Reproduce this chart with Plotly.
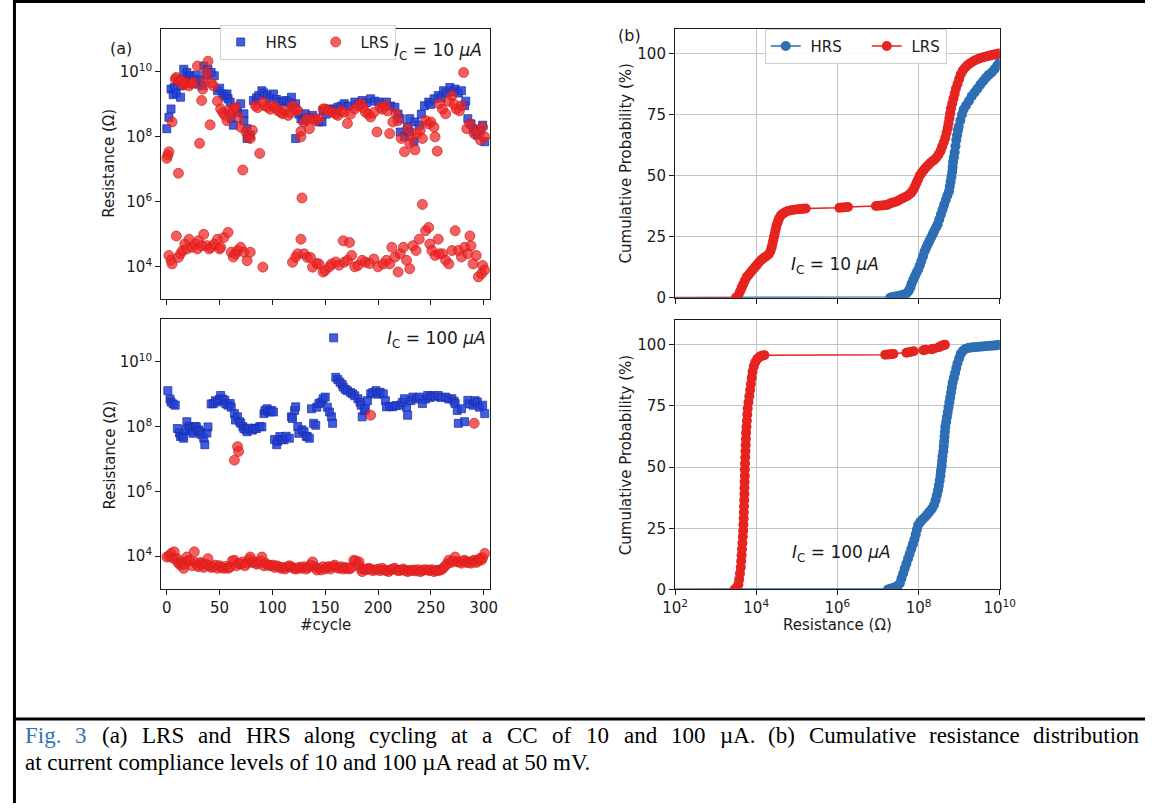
import numpy as np
import plotly.graph_objects as go

W, H = 1161, 812

# ---------------- data ----------------
# (a) top: I_C = 10 uA  -- resistance given as log10(R / Ohm)
top_hrs_cycle = [0, 2, 4, 4, 6, 7, 9, 10, 13, 13, 15, 16, 17, 19, 21, 22, 24, 25, 28, 30,
                 32, 34, 35, 37, 39, 42, 45, 48, 50, 53, 55, 57, 58, 60, 61, 63, 65, 67, 70, 73,
                 73, 76, 76, 79, 82, 85, 87, 90, 92, 95, 98, 101, 104, 107, 110, 113, 116, 118, 122, 122,
                 125, 127, 129, 131, 134, 138, 141, 144, 147, 148, 151, 154, 158, 162, 165, 168, 172, 178, 181, 185,
                 189, 193, 197, 201, 204, 208, 212, 216, 219, 221, 221, 225, 228, 230, 230, 234, 235, 239, 241, 244,
                 248, 250, 253, 257, 260, 262, 265, 268, 271, 273, 276, 279, 282, 283, 285, 288, 290, 292, 294, 297,
                 299, 301]
top_hrs_logr = [8.25, 8.6, 8.86, 9.47, 9.3, 9.52, 9.35, 9.73, 9.22, 9.57, 9.8, 10.08, 9.67, 9.98, 9.85, 9.88, 9.7, 9.78, 9.9, 9.62,
                9.75, 9.57, 10.18, 9.9, 10.08, 9.98, 9.88, 9.42, 9.5, 9.32, 9.25, 9.32, 9.17, 9.07, 8.56, 8.36, 8.9, 8.75, 9.02, 8.71,
                8.5, 8.25, 7.95, 8.05, 9.12, 9.2, 9.27, 9.42, 9.35, 9.27, 9.2, 9.32, 9.15, 9.07, 9.1, 9.12, 9.05, 9.22, 9.02, 7.95,
                8.7, 8.56, 8.5, 8.71, 8.6, 8.66, 8.55, 8.46, 8.46, 8.81, 8.7, 8.86, 8.85, 8.91, 8.95, 9.02, 8.95, 9.07, 9.0, 9.12,
                9.05, 9.17, 9.1, 9.07, 9.0, 9.07, 8.95, 8.91, 8.7, 8.15, 8.56, 8.0, 8.3, 8.56, 8.15, 7.85, 8.46, 8.36, 8.7, 8.96,
                9.07, 9.0, 9.17, 9.27, 9.2, 9.42, 9.35, 9.52, 9.4, 9.47, 9.35, 9.42, 8.96, 9.1, 8.56, 8.4, 8.25, 8.15, 8.05, 8.2,
                8.36, 7.85]

top_lrs_cycle = [0, 1, 2, 5, 8, 9, 11, 12, 14, 16, 18, 21, 23, 25, 29, 31, 33, 34, 36, 38,
                 39, 41, 42, 44, 48, 51, 53, 55, 57, 59, 61, 63, 65, 68, 70, 72, 75, 77, 79, 81,
                 84, 86, 88, 91, 93, 96, 98, 101, 103, 105, 108, 110, 112, 115, 117, 119, 122, 124, 127, 127,
                 128, 130, 133, 135, 138, 141, 144, 148, 150, 153, 157, 160, 162, 165, 168, 171, 174, 178, 181, 184,
                 186, 188, 191, 193, 196, 199, 202, 204, 207, 209, 211, 214, 217, 219, 222, 225, 228, 230, 232, 235,
                 237, 240, 242, 245, 248, 250, 253, 254, 256, 258, 261, 264, 267, 270, 272, 274, 277, 279, 281, 284,
                 287, 291, 294, 297, 299, 301,
                 2, 4, 5, 9, 11, 13, 15, 17, 19, 21, 24, 27, 29, 30, 33, 35, 38, 40, 42, 45,
                 48, 50, 51, 54, 58, 61, 63, 65, 67, 70, 73, 76, 79, 91, 119, 122, 124, 127, 130, 133,
                 136, 138, 142, 144, 148, 150, 154, 156, 160, 163, 167, 168, 171, 173, 175, 178, 181, 185, 188, 192,
                 196, 200, 205, 208, 211, 213, 216, 219, 221, 224, 227, 230, 233, 236, 239, 242, 245, 248, 249, 251,
                 254, 257, 258, 261, 264, 267, 270, 273, 276, 279, 282, 285, 287, 288, 290, 293, 295, 298, 299, 301]
top_lrs_logr = [7.34, 7.44, 7.54, 8.46, 9.78, 9.83, 6.88, 9.7, 9.73, 9.6, 9.67, 9.57, 9.65, 9.67, 10.18, 7.8, 9.12, 9.47, 9.7, 9.98,
                10.33, 8.37, 9.67, 9.57, 9.1, 8.86, 8.75, 8.66, 8.5, 8.8, 8.71, 8.85, 8.91, 8.6, 8.3, 6.98, 8.15, 8.0, 7.95, 8.2,
                8.96, 8.9, 7.49, 9.07, 8.95, 8.91, 8.85, 8.96, 8.9, 8.81, 8.75, 8.71, 8.8, 8.66, 8.75, 8.96, 8.85, 8.81, 8.17, 8.0,
                6.12, 8.45, 8.56, 8.25, 8.56, 8.5, 8.56, 8.86, 8.86, 8.8, 8.76, 8.7, 8.66, 8.8, 8.76, 8.41, 8.7, 8.86, 8.95, 9.02,
                8.9, 8.76, 8.7, 8.61, 8.75, 8.15, 8.91, 8.85, 8.96, 8.8, 8.1, 8.46, 8.71, 8.5, 7.95, 7.54, 8.25, 7.8, 8.0, 7.6,
                8.1, 8.2, 7.95, 8.5, 8.4, 8.46, 8.3, 8.0, 7.56, 9.02, 8.85, 8.71, 9.1, 9.27, 9.0, 8.86, 8.8, 8.96, 9.98, 8.25,
                8.4, 8.1, 8.2, 7.9, 8.3, 8.0,
                4.35, 4.2, 4.09, 4.95, 4.29, 4.4, 4.5, 4.7, 4.55, 4.85, 4.6, 4.7, 4.55, 4.8, 4.65, 5.0, 4.65, 4.55, 4.6, 4.7,
                4.85, 4.55, 4.6, 4.9, 5.06, 4.45, 4.3, 4.4, 4.5, 4.6, 4.45, 4.19, 4.45, 3.99, 4.14, 4.3, 4.4, 4.85, 4.4, 4.29,
                4.29, 3.99, 4.1, 4.09, 3.84, 3.89, 4.0, 4.09, 4.15, 4.05, 4.8, 4.14, 4.2, 4.75, 4.35, 4.0, 4.04, 4.2, 4.14, 4.1,
                4.24, 4.0, 4.09, 4.2, 4.09, 4.6, 4.3, 3.84, 4.4, 4.6, 4.2, 3.94, 4.65, 4.5, 4.85, 5.92, 5.11, 5.21, 4.7, 4.5,
                4.35, 4.85, 4.4, 4.4, 4.2, 4.09, 4.5, 5.11, 4.5, 4.3, 4.6, 4.4, 4.95, 4.65, 4.09, 4.35, 3.69, 3.79, 4.04, 3.9]

# (a) bottom: I_C = 100 uA
bot_hrs_cycle = [1, 3, 4, 6, 8, 10, 12, 13, 15, 16, 18, 19, 21, 22, 24, 25, 27, 28, 30, 31,
                 33, 35, 36, 38, 39, 42, 44, 46, 48, 50, 51, 53, 55, 56, 58, 60, 61, 64, 65, 67,
                 69, 70, 72, 73, 75, 76, 78, 81, 83, 85, 88, 90, 92, 93, 95, 97, 99, 101, 102, 104,
                 105, 107, 109, 111, 113, 116, 118, 119, 121, 122, 124, 125, 128, 130, 132, 133, 135, 137, 139, 141,
                 142, 144, 146, 148, 150, 152, 154, 156, 157, 158, 160, 162, 164, 166, 167, 169, 171, 174, 176, 178,
                 181, 183, 184, 185, 187, 188, 190, 193, 195, 198, 200, 202, 205, 207, 208, 211, 214, 217, 221, 223,
                 225, 227, 228, 231, 233, 236, 239, 242, 245, 247, 249, 251, 254, 257, 260, 264, 267, 270, 272, 273,
                 275, 276, 279, 282, 285, 287, 290, 292, 294, 296, 299, 301]
bot_hrs_logr = [9.11, 8.85, 8.76, 8.7, 8.66, 7.94, 7.8, 7.69, 7.7, 7.64, 7.9, 8.15, 8.0, 7.94, 7.85, 7.79, 8.0, 7.99, 7.9, 7.84,
                7.75, 7.64, 7.44, 7.8, 7.99, 8.7, 8.71, 8.8, 8.76, 8.85, 8.96, 8.85, 8.81, 8.7, 8.66, 8.71, 8.6, 8.4, 8.2, 8.3,
                8.15, 8.1, 8.0, 7.94, 7.9, 7.84, 7.95, 7.89, 7.95, 7.94, 8.0, 7.99, 8.4, 8.5, 8.55, 8.45, 8.5, 8.45, 7.6, 7.44,
                7.55, 7.69, 7.6, 7.59, 7.7, 7.64, 8.3, 8.25, 8.5, 8.61, 8.0, 7.79, 7.9, 7.84, 7.7, 7.69, 7.64, 8.55, 8.1, 8.04,
                8.6, 8.71, 8.75, 8.86, 8.91, 8.6, 8.45, 8.3, 8.1, 10.74, 9.52, 9.45, 9.37, 9.3, 9.22, 9.15, 9.11, 9.05, 9.01, 8.95,
                8.86, 8.75, 8.66, 8.3, 8.5, 8.55, 8.8, 9.01, 9.05, 9.11, 9.0, 9.06, 9.01, 8.8, 8.61, 8.62, 8.61, 8.65, 8.66, 8.75,
                8.86, 8.6, 8.35, 8.8, 8.91, 8.85, 8.91, 8.71, 8.85, 8.96, 8.9, 8.96, 8.92, 8.96, 8.9, 8.91, 8.85, 8.86, 8.78, 8.71,
                8.5, 8.1, 8.55, 8.15, 8.81, 8.7, 8.66, 8.8, 8.76, 8.6, 8.66, 8.4]

bot_lrs_cycle = [0, 2, 4, 5, 7, 8, 10, 11, 13, 14, 16, 17, 19, 20, 22, 24, 26, 27, 29, 30,
                 32, 34, 35, 37, 39, 40, 42, 44, 46, 48, 50, 52, 54, 56, 58, 60, 62, 64, 66, 68,
                 70, 72, 74, 76, 78, 79, 81, 83, 85, 87, 89, 90, 92, 94, 96, 98, 100, 102, 104, 106,
                 108, 110, 112, 114, 116, 118, 120, 122, 124, 126, 128, 130, 132, 134, 136, 138, 140, 142, 144, 146,
                 148, 150, 152, 153, 155, 157, 159, 161, 163, 165, 167, 169, 171, 173, 175, 177, 179, 181, 182, 184,
                 185, 187, 189, 191, 193, 195, 198, 200, 202, 204, 206, 208, 210, 212, 214, 216, 218, 220, 222, 224,
                 226, 228, 230, 232, 234, 236, 238, 240, 242, 244, 247, 249, 251, 253, 255, 257, 259, 261, 263, 265,
                 267, 269, 271, 273, 275, 277, 279, 281, 282, 284, 286, 288, 290, 291, 293, 295, 296, 298, 299, 301,
                 64, 67, 68, 193, 291]
bot_lrs_logr = [3.97, 4.0, 4.08, 3.95, 4.13, 3.9, 3.92, 3.78, 3.72, 3.8, 3.62, 3.75, 3.97, 3.85, 3.87, 3.7, 4.13, 3.8, 3.72, 3.67,
                3.8, 3.77, 3.65, 3.75, 3.92, 3.7, 3.65, 3.67, 3.72, 3.62, 3.7, 3.65, 3.62, 3.68, 3.62, 3.66, 3.85, 3.87, 3.7, 3.77,
                3.75, 3.82, 3.7, 3.78, 3.9, 3.97, 3.8, 3.82, 3.75, 3.78, 3.85, 3.97, 3.7, 3.77, 3.72, 3.7, 3.72, 3.65, 3.7, 3.67,
                3.62, 3.65, 3.6, 3.66, 3.7, 3.67, 3.62, 3.6, 3.62, 3.66, 3.62, 3.67, 3.6, 3.65, 3.72, 3.82, 3.67, 3.57, 3.62, 3.57,
                3.67, 3.6, 3.65, 3.67, 3.6, 3.68, 3.72, 3.65, 3.62, 3.67, 3.6, 3.65, 3.62, 3.6, 3.65, 3.87, 3.85, 3.75, 3.82, 3.6,
                3.52, 3.6, 3.58, 3.62, 3.6, 3.55, 3.57, 3.6, 3.55, 3.62, 3.57, 3.55, 3.52, 3.58, 3.6, 3.62, 3.56, 3.55, 3.57, 3.6,
                3.55, 3.52, 3.56, 3.55, 3.57, 3.54, 3.58, 3.52, 3.55, 3.58, 3.57, 3.55, 3.58, 3.52, 3.56, 3.55, 3.57, 3.6, 3.67, 3.75,
                3.87, 3.8, 3.85, 3.97, 3.82, 3.82, 3.78, 3.85, 3.87, 3.8, 3.82, 3.78, 3.85, 3.87, 3.8, 3.85, 3.92, 3.88, 3.95, 4.08,
                6.96, 7.38, 7.23, 8.35, 8.1]

# (b) cumulative distributions: log10(R / Ohm) and cumulative probability (%)
cdf10_hrs_logr = [1.0, 7.30, 7.36, 7.43, 7.50, 7.57, 7.64, 7.71, 7.76, 7.80, 7.83, 7.87, 7.91, 7.95, 7.99, 8.03, 8.07, 8.11, 8.15, 8.19,
                  8.23, 8.27, 8.31, 8.35, 8.39, 8.43, 8.47, 8.51, 8.55, 8.59, 8.63, 8.67, 8.71, 8.75, 8.77, 8.79, 8.81, 8.83, 8.84, 8.85,
                  8.87, 8.89, 8.91, 8.93, 8.95, 8.97, 8.99, 9.03, 9.07, 9.11, 9.17, 9.24, 9.31, 9.38, 9.45, 9.52, 9.59, 9.66, 9.73, 9.80,
                  9.87, 9.94, 10.0]
cdf10_hrs_p = [0, 0, 0.3, 0.5, 0.7, 1.0, 1.3, 1.8, 2.8, 4.2, 5.8, 7.3, 8.8, 10.2, 11.5, 13.2, 15.0, 17.0, 19.0, 20.5,
               22, 23.3, 24.6, 26, 27.4, 28.7, 30, 32, 34, 36, 38, 40, 41.8, 43.5, 45.5, 47.5, 49.5, 51.5, 53.5, 55.5,
               57.5, 59.5, 62, 64.5, 66.5, 68.5, 70, 72.5, 75, 77, 78.7, 80.5, 82.5, 84, 85.5, 87.2, 88.6, 90, 91.2, 92.2,
               93.5, 95, 96.5]
cdf10_lrs_logr = [1.0, 3.50, 3.56, 3.60, 3.64, 3.68, 3.72, 3.77, 3.82, 3.87, 3.92, 3.97, 4.02, 4.07, 4.13, 4.19, 4.25, 4.31, 4.35, 4.38,
                  4.40, 4.42, 4.44, 4.46, 4.48, 4.50, 4.53, 4.56, 4.60, 4.65, 4.71, 4.78, 4.86, 4.94, 5.03, 5.10, 5.16, 5.22,
                  6.05, 6.12, 6.19, 6.26, 6.95, 7.02, 7.09, 7.16, 7.23,
                  7.30, 7.37, 7.44, 7.51, 7.58, 7.65, 7.71, 7.77, 7.82, 7.87, 7.91, 7.95, 7.99, 8.03, 8.08, 8.13, 8.18, 8.24, 8.30, 8.37,
                  8.43, 8.49, 8.54, 8.58, 8.62, 8.66, 8.69, 8.72, 8.74, 8.76, 8.78, 8.80, 8.83, 8.86, 8.89, 8.92, 8.96, 9.00, 9.04, 9.09,
                  9.15, 9.21, 9.27, 9.34, 9.41, 9.48, 9.55, 9.62, 9.69, 9.76, 9.83, 9.90, 9.98]
cdf10_lrs_p = [0, 0, 1, 2.5, 4, 5.5, 7, 8.5, 9.5, 10.5, 11.5, 12.5, 13.5, 14.5, 15.5, 16.3, 17, 17.8, 19, 20.5,
               22, 23.5, 25, 26.5, 28, 29.5, 31, 32.3, 33.5, 34.3, 35, 35.5, 35.8, 36, 36.2, 36.3, 36.4, 36.5,
               36.8, 36.9, 37.0, 37.1, 37.5, 37.6, 37.7, 37.8, 38.0,
               38.6, 39.0, 39.3, 39.8, 40.5, 41.0, 41.5, 42.2, 43, 44.2, 45.5, 47, 48.5, 50, 51.2, 52.3, 53.3, 54.3, 55.3, 56.2,
               57.2, 58.5, 60, 61.8, 63.5, 65.5, 67.5, 69.5, 71.5, 73.5, 75.5, 77.5, 79.5, 81.5, 83.5, 85.5, 87.5, 89.5, 91.5, 93,
               94.2, 95.2, 96.0, 96.7, 97.3, 97.8, 98.2, 98.5, 98.8, 99.1, 99.4, 99.7, 100]

cdf100_hrs_logr = [1.0, 7.25, 7.31, 7.37, 7.43, 7.49, 7.54, 7.58, 7.62, 7.66, 7.70, 7.74, 7.78, 7.82, 7.86, 7.90, 7.93, 7.96, 7.99, 8.04,
                   8.09, 8.15, 8.21, 8.27, 8.33, 8.38, 8.42, 8.45, 8.48, 8.50, 8.52, 8.54, 8.55, 8.57, 8.58, 8.59, 8.61, 8.62, 8.63, 8.64,
                   8.65, 8.66, 8.68, 8.70, 8.72, 8.74, 8.76, 8.78, 8.80, 8.82, 8.84, 8.87, 8.90, 8.93, 8.96, 9.00, 9.04, 9.09, 9.15, 9.22,
                   9.29, 9.36, 9.43, 9.50, 9.57, 9.64, 9.71, 9.78, 9.85, 9.92, 9.99]
cdf100_hrs_p = [0, 0, 0.3, 0.6, 1.0, 1.5, 2.5, 4.5, 6.5, 8.5, 10.5, 12.5, 14.5, 16.5, 18.5, 20.5, 22.5, 24.5, 26.3, 27.5,
                28.5, 29.4, 30.5, 31.8, 33, 34.5, 36.5, 38.5, 40.5, 42.5, 44.5, 46.5, 48.5, 50.5, 52.5, 54.5, 56.5, 58.5, 60.5, 62.5,
                64.5, 66.5, 68.5, 70.5, 72.5, 74.5, 76.5, 78.5, 80.5, 82.5, 84.5, 86.5, 88.5, 90.5, 92.5, 94.5, 96.3, 97.5, 98.3, 98.7,
                98.9, 99.0, 99.1, 99.2, 99.3, 99.4, 99.5, 99.6, 99.7, 99.8, 100]
cdf100_lrs_logr = [1.0, 3.47, 3.52, 3.56, 3.58, 3.60, 3.62, 3.63, 3.64, 3.65, 3.66, 3.67, 3.68, 3.685, 3.69, 3.695, 3.70, 3.705, 3.71, 3.71,
                   3.715, 3.72, 3.72, 3.725, 3.73, 3.735, 3.74, 3.745, 3.75, 3.76, 3.77, 3.78, 3.79, 3.81, 3.83, 3.85, 3.87, 3.89, 3.91, 3.94,
                   3.98, 4.03, 4.09, 4.15, 4.20,
                   7.18, 7.25, 7.32, 7.38, 7.70, 7.76, 7.82, 7.88, 8.12, 8.17, 8.32, 8.37, 8.50, 8.55, 8.60, 8.65]
cdf100_lrs_p = [0, 0, 0.7, 2, 4, 6.5, 9, 11.5, 14, 16.5, 19, 21.5, 24, 26.5, 29, 31.5, 34, 36.5, 39, 41.5,
                44, 46.5, 49, 51.5, 54, 56.5, 59, 61.5, 64, 66.5, 69, 71.5, 74, 76.5, 79, 81.5, 84, 86.5, 89, 91.2,
                93, 94.3, 95.2, 95.6, 95.8,
                96.0, 96.1, 96.2, 96.3, 96.8, 97.0, 97.2, 97.4, 97.8, 98.0, 98.2, 98.4, 99.0, 99.4, 99.8, 100]

cycle_ticks = [0, 50, 100, 150, 200, 250, 300]
res_tick_exp = [2, 4, 6, 8, 10]
prob_ticks = [0, 25, 50, 75, 100]

caption_line1 = ("Fig. 3 (a) LRS and HRS along cycling at a CC of 10 and 100 µA. "
                 "(b) Cumulative resistance distribution")
caption_line2 = "at current compliance levels of 10 and 100 µA read at 50 mV."

# ---------------- styling ----------------
FONT = "DejaVu Sans"
INK = "#1a1a1a"
BLUE_SQ = "rgba(35,65,215,0.85)"
BLUE_SQ_EDGE = "rgba(25,45,165,0.9)"
RED_C = "rgba(240,35,35,0.72)"
RED_C_EDGE = "rgba(205,30,30,0.85)"
BLUE_L = "#2d6eb5"
RED_L = "#e5231f"
TICK_SIZE = 15
LABEL_SIZE = 15
NB = "\u00a0"


def X(px):
    return px / W


def Y(py):
    return 1 - py / H


def pw(v):
    return list(np.power(10.0, v))


fig = go.Figure()

sq = dict(symbol="square", size=8, color=BLUE_SQ, line=dict(width=0.8, color=BLUE_SQ_EDGE))
ci = dict(symbol="circle", size=10, color=RED_C, line=dict(width=0.8, color=RED_C_EDGE))

fig.add_trace(go.Scatter(x=top_hrs_cycle, y=pw(top_hrs_logr), mode="markers", name=NB + "HRS",
                         marker=sq, xaxis="x", yaxis="y", legend="legend", legendwidth=50))
fig.add_trace(go.Scatter(x=top_lrs_cycle, y=pw(top_lrs_logr), mode="markers", name=NB + "LRS",
                         marker=ci, xaxis="x", yaxis="y", legend="legend"))
fig.add_trace(go.Scatter(x=bot_hrs_cycle, y=pw(bot_hrs_logr), mode="markers", name="HRS",
                         marker=sq, xaxis="x2", yaxis="y2", showlegend=False))
fig.add_trace(go.Scatter(x=bot_lrs_cycle, y=pw(bot_lrs_logr), mode="markers", name="LRS",
                         marker=ci, xaxis="x2", yaxis="y2", showlegend=False))

for xs, ps, col, name, xa, ya, show, lw in [
    (cdf10_hrs_logr, cdf10_hrs_p, BLUE_L, NB + "HRS", "x3", "y3", True, 56),
    (cdf10_lrs_logr, cdf10_lrs_p, RED_L, NB + "LRS", "x3", "y3", True, None),
    (cdf100_hrs_logr, cdf100_hrs_p, BLUE_L, "HRS", "x4", "y4", False, None),
    (cdf100_lrs_logr, cdf100_lrs_p, RED_L, "LRS", "x4", "y4", False, None),
]:
    fig.add_trace(go.Scatter(x=pw(xs), y=ps, mode="lines+markers", name=name,
                             line=dict(color=col, width=1.5),
                             marker=dict(symbol="circle", size=10, color=col),
                             xaxis=xa, yaxis=ya, showlegend=show, legend="legend2",
                             legendwidth=lw))

axis_common = dict(showline=True, linecolor=INK, linewidth=1.2, mirror=True,
                   ticks="outside", ticklen=5, tickwidth=1.2, tickcolor=INK,
                   tickfont=dict(family=FONT, size=TICK_SIZE, color=INK), zeroline=False)

res_text = ["10<sup>%d</sup>" % e for e in res_tick_exp]
res_vals = [10.0 ** e for e in res_tick_exp]

xl_dom = [X(152), X(489)]
xr_dom = [X(679), X(1012)]
GRID = "#c4c4c4"

fig.update_layout(
    width=W, height=H, autosize=False,
    margin=dict(l=0, r=0, t=0, b=0),
    paper_bgcolor="white", plot_bgcolor="white",
    font=dict(family=FONT, color=INK),
    xaxis=dict(domain=xl_dom, anchor="y", range=[-5.3, 305.8], tickvals=cycle_ticks,
               showticklabels=False, showgrid=False, **axis_common),
    yaxis=dict(domain=[Y(302), Y(29)], anchor="x", type="log", range=[3.02, 11.33],
               tickvals=res_vals[1:], ticktext=res_text[1:], showgrid=False, **axis_common),
    xaxis2=dict(domain=xl_dom, anchor="y2", range=[-5.3, 305.8], tickvals=cycle_ticks,
                showgrid=False, **axis_common),
    yaxis2=dict(domain=[Y(596), Y(323)], anchor="x2", type="log", range=[2.97, 11.31],
                tickvals=res_vals[1:], ticktext=res_text[1:], showgrid=False, **axis_common),
    xaxis3=dict(domain=xr_dom, anchor="y3", type="log", range=[2, 10], tickvals=res_vals,
                showticklabels=False, showgrid=True, gridcolor=GRID, gridwidth=1, **axis_common),
    yaxis3=dict(domain=[Y(301), Y(29.3)], anchor="x3", range=[0, 110], tickvals=prob_ticks,
                showgrid=True, gridcolor=GRID, gridwidth=1, **axis_common),
    xaxis4=dict(domain=xr_dom, anchor="y4", type="log", range=[2, 10], tickvals=res_vals,
                ticktext=res_text, showgrid=True, gridcolor=GRID, gridwidth=1, **axis_common),
    yaxis4=dict(domain=[Y(596), Y(324)], anchor="x4", range=[0, 110], tickvals=prob_ticks,
                showgrid=True, gridcolor=GRID, gridwidth=1, **axis_common),
    legend=dict(x=X(212), y=Y(25), xanchor="left", yanchor="top", orientation="h",
                bgcolor="rgba(255,255,255,0.9)", bordercolor="#cfcfcf", borderwidth=1,
                font=dict(family=FONT, size=15, color=INK), itemwidth=30),
    legend2=dict(x=X(771), y=Y(29), xanchor="left", yanchor="top", orientation="h",
                 bgcolor="rgba(255,255,255,0.9)", bordercolor="#cfcfcf", borderwidth=1,
                 font=dict(family=FONT, size=15, color=INK), itemwidth=30),
)

ann = []


def txt(s, px, py, size, angle=0, xanchor="center", family=FONT, color=INK):
    ann.append(dict(text=s, x=X(px), y=Y(py), xref="paper", yref="paper", showarrow=False,
                    xanchor=xanchor, yanchor="middle", textangle=angle,
                    borderpad=0, borderwidth=0,
                    font=dict(family=family, size=size, color=color)))


txt("(a)", 111, 49, 16)
txt("(b)", 632, 36, 16)
txt("Resistance (Ω)", 99, 165, LABEL_SIZE, angle=-90)
txt("Resistance (Ω)", 99, 460, LABEL_SIZE, angle=-90)
txt("Cumulative Probability (%)", 629, 165, LABEL_SIZE, angle=-90)
txt("Cumulative Probability (%)", 629, 460, LABEL_SIZE, angle=-90)
txt("#cycle", 321, 632, LABEL_SIZE)
txt("Resistance (Ω)", 846, 632, LABEL_SIZE)
txt("<i>I</i><sub>C</sub> = 10 <i>μA</i>", 436, 52, 17)
txt("<i>I</i><sub>C</sub> = 100 <i>μA</i>", 434, 343, 17)
txt("<i>I</i><sub>C</sub> = 10 <i>μA</i>", 843, 268, 17)
txt("<i>I</i><sub>C</sub> = 100 <i>μA</i>", 850, 560, 17)

# caption: Times-metric (Liberation Serif) widths used to justify the first line
CAP = "Liberation Serif"
CAP_SIZE = 23
TIMES_W = {"F": 556, "i": 278, "g": 500, ".": 250, "(": 333, ")": 333, "a": 444, "L": 611,
           "R": 667, "S": 556, "n": 500, "d": 500, "H": 722, "l": 278, "o": 500, "c": 444,
           "y": 500, "t": 278, "C": 667, "f": 333, "µ": 500, "A": 722, "b": 500, "u": 500,
           "m": 778, "v": 500, "e": 444, "r": 333, "s": 389, "p": 500, "V": 722}


def text_w(s):
    return sum(TIMES_W.get(ch, 500) for ch in s) * CAP_SIZE / 1000.0


words = caption_line1.split(" ")
left, right = 12.0, 1152.0
gap = (right - left - sum(text_w(w) for w in words)) / (len(words) - 1)
xpos = left
for i, w in enumerate(words):
    col = "#2e74b5" if i < 2 else "black"
    txt(w, xpos, 744, CAP_SIZE, xanchor="left", family=CAP, color=col)
    xpos += text_w(w) + gap
txt(caption_line2, 12, 771, CAP_SIZE, xanchor="left", family=CAP, color="black")

fig.update_layout(annotations=ann)

fig.update_layout(shapes=[
    dict(type="line", xref="paper", yref="paper", x0=0, x1=1, y0=Y(1.5), y1=Y(1.5),
         line=dict(color="black", width=3)),
    dict(type="line", xref="paper", yref="paper", x0=X(1.5), x1=X(1.5), y0=0, y1=1,
         line=dict(color="black", width=3)),
    dict(type="line", xref="paper", yref="paper", x0=0, x1=1, y0=Y(727), y1=Y(727),
         line=dict(color="black", width=3)),
])

fig.write_html("out.html")
